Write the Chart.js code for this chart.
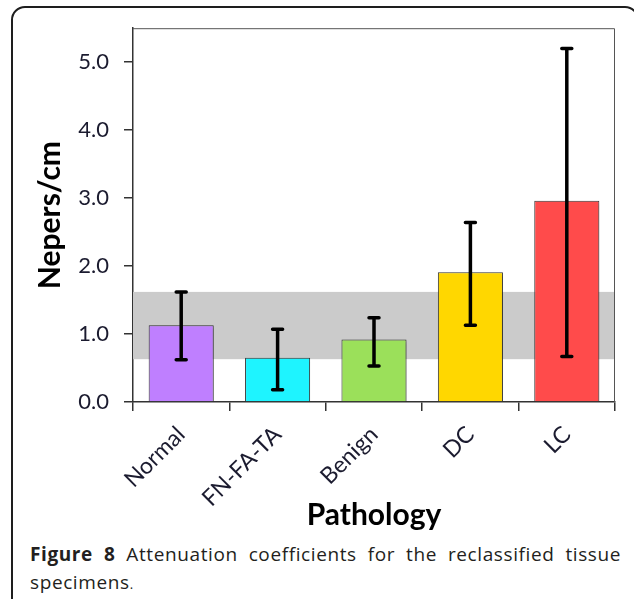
<!DOCTYPE html>
<html>
<head>
<meta charset="utf-8">
<script src="https://cdn.jsdelivr.net/npm/chart.js@4.4.0/dist/chart.umd.min.js"></script>
<style>
  html, body { margin: 0; padding: 0; background: #fff; width: 634px; height: 599px; overflow: hidden; }
  #frame { position: absolute; left: 11px; top: 6px; width: 624px; height: 640px; border: 2px solid #1e1e1e; border-radius: 14px; }
  #wrap { position: absolute; left: 0; top: 0; width: 634px; height: 540px; }
  #caption { position: absolute; left: 30px; top: 540px; width: 591px; font-family: "Open Sans", sans-serif; font-size: 19px; letter-spacing: 0.6px; font-weight: 500; color: #231f20; line-height: 28px; }
  .l1 { text-align: justify; text-align-last: justify; white-space: nowrap; }
</style>
</head>
<body>
<div id="frame"></div>
<div id="wrap"><canvas id="attChart"></canvas></div>
<div id="caption">
  <div class="l1"><b>Figure 8</b> Attenuation coefficients for the reclassified tissue</div>
  <div>specimens<span style="font-size:13px">.</span></div>
</div>
<script>
// datos
const categories = ['Normal', 'FN-FA-TA', 'Benign', 'DC', 'LC'];
const meanValues = [1.13, 0.65, 0.92, 1.91, 2.96];
const errorLow = [0.62, 0.18, 0.53, 1.13, 0.67];
const errorHigh = [1.62, 1.07, 1.24, 2.64, 5.20];
const normalRange = [0.63, 1.62];
const yTicks = [0, 1, 2, 3, 4, 5];
const barColors = ['#bf7fff', '#1ef4ff', '#9be05a', '#ffd700', '#ff4b4b'];

const tickColor = '#1b1b2f';

// banda gris, sombra, barras de error y marco del area
const decorPlugin = {
    id: 'decor',
    beforeDatasetsDraw(chart) {
        const { ctx, chartArea, scales: { y } } = chart;
        const top = y.getPixelForValue(normalRange[1]);
        const bot = y.getPixelForValue(normalRange[0]);
        ctx.save();
        ctx.fillStyle = '#cbcbcb';
        ctx.fillRect(chartArea.left, top, chartArea.right - chartArea.left, bot - top);
        ctx.restore();

        ctx.save();
        ctx.shadowColor = 'rgba(0,0,0,0.22)';
        ctx.shadowOffsetX = 2;
        ctx.shadowOffsetY = 2;
        ctx.shadowBlur = 3;
    },
    afterDatasetsDraw(chart) {
        const { ctx, scales: { y } } = chart;
        ctx.restore();

        const meta = chart.getDatasetMeta(0);
        ctx.save();
        ctx.strokeStyle = '#000';
        ctx.lineWidth = 3.5;
        ctx.lineCap = 'round';
        meta.data.forEach((bar, i) => {
            const yHi = y.getPixelForValue(errorHigh[i]);
            const yLo = y.getPixelForValue(errorLow[i]);
            ctx.beginPath();
            ctx.moveTo(bar.x, yHi);
            ctx.lineTo(bar.x, yLo);
            ctx.moveTo(bar.x - 5, yHi);
            ctx.lineTo(bar.x + 5, yHi);
            ctx.moveTo(bar.x - 5, yLo);
            ctx.lineTo(bar.x + 5, yLo);
            ctx.stroke();
        });
        ctx.restore();
    },
    afterDraw(chart) {
        const { ctx, chartArea } = chart;
        ctx.save();
        ctx.strokeStyle = '#555';
        ctx.lineWidth = 1;
        ctx.beginPath();
        ctx.moveTo(chartArea.left, chartArea.top + 0.5);
        ctx.lineTo(chartArea.right - 0.5, chartArea.top + 0.5);
        ctx.lineTo(chartArea.right - 0.5, chartArea.bottom);
        ctx.stroke();
        ctx.restore();
    }
};

const ctx = document.getElementById('attChart');
new Chart(ctx, {
    type: 'bar',
    data: {
        labels: categories,
        datasets: [{
            data: meanValues,
            backgroundColor: barColors,
            borderColor: '#333',
            borderWidth: 1,
            categoryPercentage: 1,
            barPercentage: 0.675
        }]
    },
    options: {
        responsive: true,
        maintainAspectRatio: false,
        animation: false,
        layout: { padding: { left: 0, right: 19, top: 26, bottom: 0 } },
        plugins: { legend: { display: false }, tooltip: { enabled: false } },
        scales: {
            x: {
                afterFit: s => { s.height = 138; },
                grid: { drawOnChartArea: false, drawTicks: true, tickLength: 9, color: '#333', lineWidth: 1.5, offset: true },
                border: { display: true, color: '#333', width: 1.5 },
                ticks: { font: { family: 'Lato', size: 23 }, color: tickColor, maxRotation: 45, minRotation: 45, padding: 10 },
                title: { display: true, text: 'Pathology', color: '#000', font: { family: 'Lato', size: 30, weight: 'bold' }, padding: { top: 0, bottom: 7 } }
            },
            y: {
                min: 0,
                max: 5.5,
                afterFit: s => { s.width = 133; },
                afterBuildTicks: s => { s.ticks = yTicks.map(v => ({ value: v })); },
                grid: { drawOnChartArea: false, drawTicks: true, tickLength: 9, color: '#333', lineWidth: 1.5 },
                border: { display: true, color: '#333', width: 1.5 },
                ticks: { font: { family: 'Lato', size: 22 }, color: tickColor, padding: 15, callback: v => v.toFixed(1) },
                title: { display: true, text: 'Nepers/cm', color: '#000', font: { family: 'Lato', size: 30, weight: 'bold' }, padding: { top: 32, bottom: 0 } }
            }
        }
    },
    plugins: [decorPlugin]
});
</script>
</body>
</html>
